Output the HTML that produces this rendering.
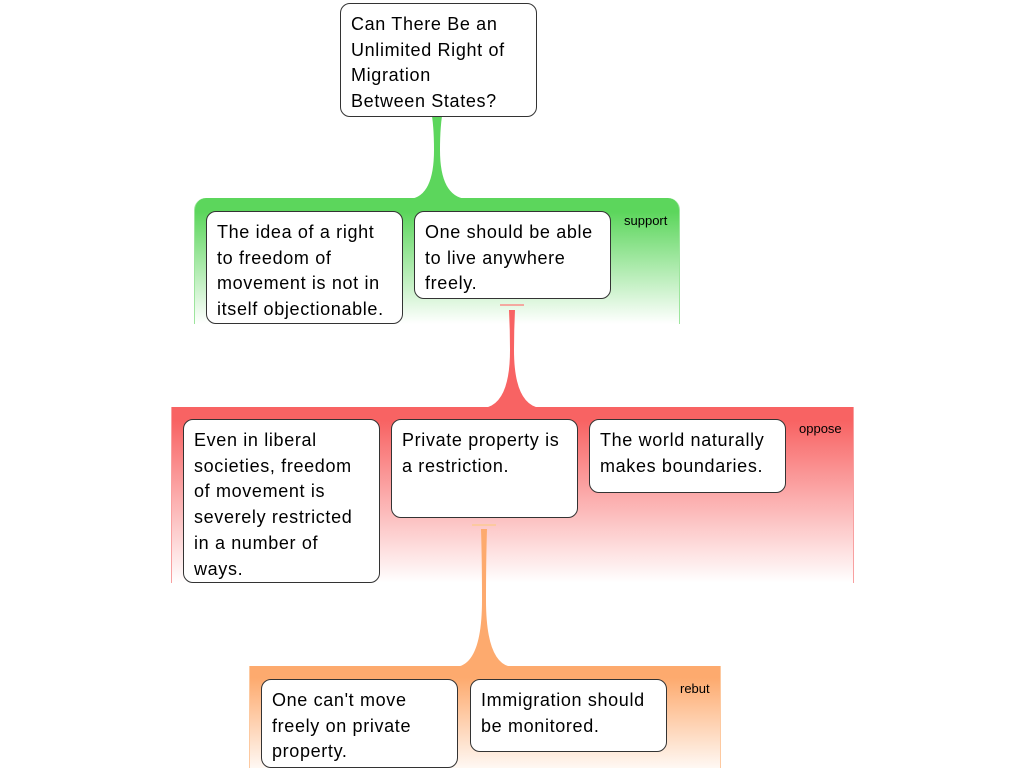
<!DOCTYPE html>
<html><head><style>
body{margin:0;width:1024px;height:768px;background:#fff;position:relative;overflow:hidden;font-family:"Liberation Sans",sans-serif}
.b{position:absolute;box-sizing:border-box;background:#fff;border:1px solid #333;border-radius:10px;padding:8px 10px;font-size:18px;line-height:25.7px;color:#000;white-space:nowrap;letter-spacing:0.65px}
.g{position:absolute;border-radius:12px 12px 0 0}
.l{position:absolute;font-size:13px;color:#000}
svg{position:absolute;left:0;top:0}
</style></head><body>
<div class="g" style="left:194px;top:198px;width:484px;height:126px;border-left:1px solid #9de59d;border-right:1px solid #9de59d;background:linear-gradient(#5cd65c 0px,#5cd65c 14px,#fff 126px)"></div>
<div class="g" style="left:171px;top:407px;width:681px;height:176px;border-radius:0;border-left:1px solid #f8a0a0;border-right:1px solid #f8a0a0;background:linear-gradient(#f86363 0px,#f86363 14px,#fff 176px)"></div>
<div class="g" style="left:249px;top:666px;width:470px;height:102px;border-radius:0;border-left:1px solid #fdc9a0;border-right:1px solid #fdc9a0;background:linear-gradient(#fdaa6e 0px,#fdaa6e 12px,#fff 110px)"></div>
<svg width="1024" height="768">
<path d="M432 116 L442 116 Q440 130 440 150 Q440 196 466 199 L410 199 Q434 196 434 150 Q434 130 432 116Z" fill="#5cd65c"/>
<line x1="500" y1="305" x2="524" y2="305" stroke="#f4a8a0" stroke-width="2"/>
<path d="M509 310 L515 310 Q514 330 514 350 Q514 404 540 408 L484 408 Q510 404 510 350 Q510 330 509 310Z" fill="#f86363"/>
<line x1="472" y1="525" x2="496" y2="525" stroke="#fcc9a0" stroke-width="2"/>
<path d="M481 529 L487 529 Q486 560 486 600 Q486 664 512 667 L456 667 Q482 664 482 600 Q482 560 481 529Z" fill="#fdaa6e"/>
</svg>
<div class="b" style="left:340px;top:3px;width:197px;height:114px">Can There Be an<br>Unlimited Right of<br>Migration<br>Between States?</div>
<div class="b" style="left:206px;top:211px;width:197px;height:113px">The idea of a right<br>to freedom of<br>movement is not in<br>itself objectionable.</div>
<div class="b" style="left:414px;top:211px;width:197px;height:88px">One should be able<br>to live anywhere<br>freely.</div>
<div class="l" style="left:624px;top:213px">support</div>
<div class="b" style="left:183px;top:419px;width:197px;height:164px">Even in liberal<br>societies, freedom<br>of movement is<br>severely restricted<br>in a number of<br>ways.</div>
<div class="b" style="left:391px;top:419px;width:187px;height:99px">Private property is<br>a restriction.</div>
<div class="b" style="left:589px;top:419px;width:197px;height:74px">The world naturally<br>makes boundaries.</div>
<div class="l" style="left:799px;top:421px">oppose</div>
<div class="b" style="left:261px;top:679px;width:197px;height:89px">One can't move<br>freely on private<br>property.</div>
<div class="b" style="left:470px;top:679px;width:197px;height:73px">Immigration should<br>be monitored.</div>
<div class="l" style="left:680px;top:681px">rebut</div>
</body></html>
